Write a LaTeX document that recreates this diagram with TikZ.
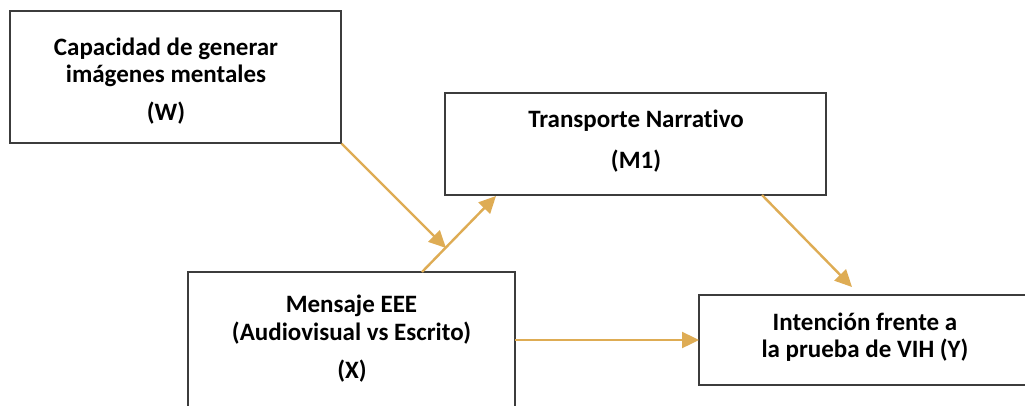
\documentclass[tikz,border=0pt]{standalone}
\usepackage{fontspec}
\setmainfont[Ligatures=NoCommon]{Carlito}
\usetikzlibrary{arrows.meta,calc}
\definecolor{gold}{RGB}{222,172,84}
\definecolor{boxline}{RGB}{60,60,60}
\tikzset{
  box/.style={draw=boxline, line width=1.2pt, fill=none, inner sep=0pt},
  txt/.style={font=\fontsize{25}{30}\selectfont\bfseries, anchor=base, inner sep=0pt},
  link/.style={draw=gold, line width=2.4pt, -{Triangle[length=17pt,width=16pt]}}
}
\begin{document}
\begin{tikzpicture}[x=1pt,y=1pt]
\clip (0,0) rectangle (1025,-405);
\fill[white] (0,0) rectangle (1025,-405);
% boxes
\node[box, minimum width=331pt, minimum height=132pt] (W) at (175.5,-77) {};
\node[box, minimum width=381pt, minimum height=102pt] (M) at (635.5,-144) {};
\node[box, minimum width=327pt, minimum height=142pt] (X) at (351.5,-343) {};
\node[box, minimum width=334pt, minimum height=90pt] (Y) at (866,-340) {};
% texts
\node[txt] (w1) at (166,-55) {Capacidad de generar};
\node[txt] (w2) at (166,-82) {imágenes mentales};
\node[txt] (w3) at (166,-120) {(W)};
\node[txt] (m1) at (636,-127) {Transporte Narrativo};
\node[txt] (m2) at (636,-168) {(M1)};
\node[txt] (x1) at (351.5,-312) {Mensaje EEE};
\node[txt] (x2) at (351.5,-340) {(Audiovisual vs Escrito)};
\node[txt] (x3) at (352,-378) {(X)};
\node[txt] (y1) at (865,-330) {Intención frente a};
\node[txt] (y2) at (865,-357) {la prueba de VIH (Y)};
% connector points
\coordinate (xs) at (422,-272);
\coordinate (me) at (496,-196);
\coordinate (wt) at (446,-248);
\coordinate (ms) at (762,-195);
\coordinate (ye) at (852,-287);
\coordinate (xr) at (515,-340);
\coordinate (yl) at (699,-340);
% arrows
\draw[link] (W.south east) -- (wt);
\draw[link] (xs) -- (me);
\draw[link] (ms) -- (ye);
\draw[link] (xr) -- (yl);
\end{tikzpicture}
\end{document}
